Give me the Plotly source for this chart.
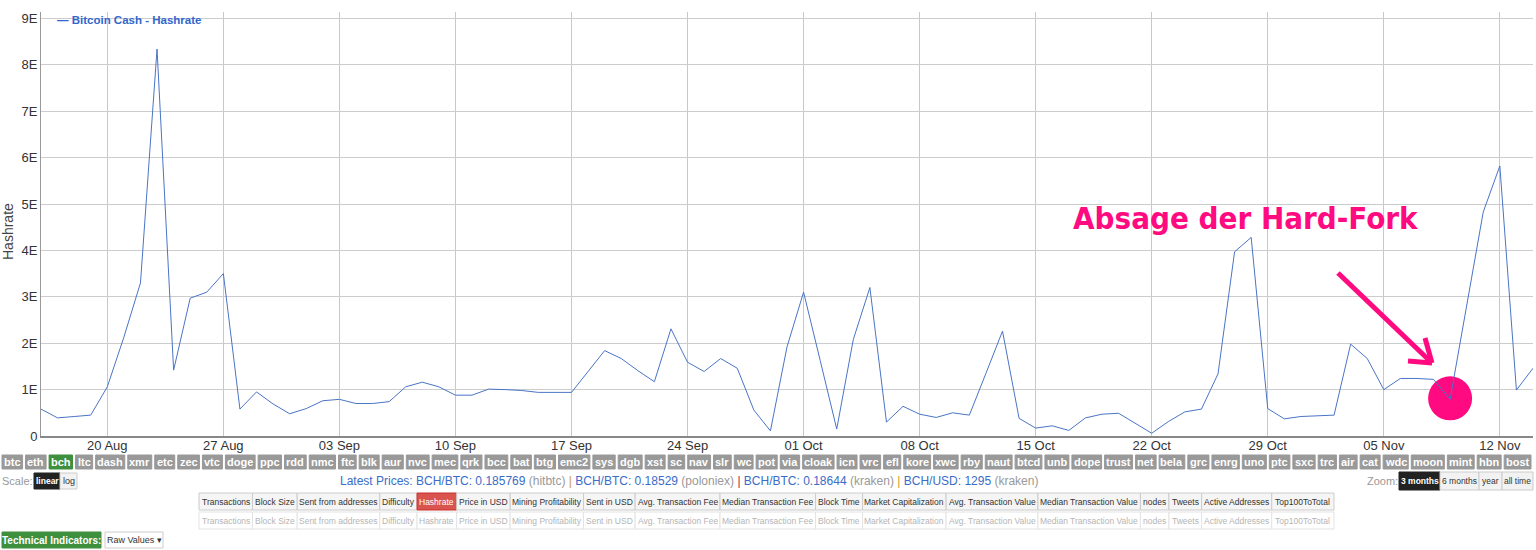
import plotly.graph_objects as go
import pandas as pd

# ---------------- data ----------------
start_date = "2017-08-16"
end_date = "2017-11-14"
hashrate_e = [
    0.58, 0.39, 0.42, 0.45, 1.06, 2.13, 3.3, 8.34, 1.42, 2.97,
    3.1, 3.5, 0.58, 0.95, 0.69, 0.48, 0.59, 0.76, 0.79, 0.7,
    0.7, 0.74, 1.06, 1.16, 1.06, 0.88, 0.88, 1.01, 1.0, 0.98,
    0.94, 0.94, 0.94, 1.39, 1.84, 1.67, 1.41, 1.17, 2.31, 1.59,
    1.39, 1.67, 1.46, 0.56, 0.11, 1.92, 3.1, 1.63, 0.15, 2.08,
    3.2, 0.3, 0.64, 0.47, 0.4, 0.5, 0.45, 1.35, 2.26, 0.38,
    0.17, 0.22, 0.12, 0.39, 0.47, 0.49, 0.27, 0.06, 0.31, 0.52,
    0.58, 1.34, 3.97, 4.28, 0.59, 0.37, 0.42, 0.43, 0.45, 1.98,
    1.67, 1.0, 1.24, 1.24, 1.22, 0.79, 2.82, 4.83, 5.82, 0.99,
    1.46,
]
dates = pd.date_range(start_date, end_date, freq="D")
y_tickvals = [0, 1, 2, 3, 4, 5, 6, 7, 8, 9]
y_ticktext = ["0", "1E", "2E", "3E", "4E", "5E", "6E", "7E", "8E", "9E"]
series_name = "Bitcoin Cash - Hashrate"
event_label = "Absage der Hard-Fork"
event_date = "2017-11-09"

coins = ["btc", "eth", "bch", "ltc", "dash", "xmr", "etc", "zec", "vtc", "doge", "ppc", "rdd",
         "nmc", "ftc", "blk", "aur", "nvc", "mec", "qrk", "bcc", "bat", "btg", "emc2", "sys",
         "dgb", "xst", "sc", "nav", "slr", "wc", "pot", "via", "cloak", "icn", "vrc", "efl",
         "kore", "xwc", "rby", "naut", "btcd", "unb", "dope", "trust", "net", "bela", "grc",
         "enrg", "uno", "ptc", "sxc", "trc", "air", "cat", "wdc", "moon", "mint", "hbn", "bost"]
metrics = ["Transactions", "Block Size", "Sent from addresses", "Difficulty", "Hashrate",
           "Price in USD", "Mining Profitability", "Sent in USD", "Avg. Transaction Fee",
           "Median Transaction Fee", "Block Time", "Market Capitalization",
           "Avg. Transaction Value", "Median Transaction Value", "nodes", "Tweets",
           "Active Addresses", "Top100ToTotal"]
zoom_opts = ["3 months", "6 months", "year", "all time"]

# ---------------- geometry helpers (pixels -> paper) ----------------
FW, FH = 1536, 550
L, R, T, B = 41, 1533, 12, 436


def fx(px):
    return (px - L) / (R - L)


def fy(py):
    return (B - py) / (B - T)


BOLD = dict(a=556, b=611, c=556, d=611, e=556, f=333, g=611, h=611, i=278, j=278, k=556,
            l=278, m=889, n=611, o=611, p=611, q=611, r=389, s=556, t=333, u=611, v=556,
            w=778, x=556, y=556, z=500)
REG = dict(a=556, b=556, c=500, d=556, e=556, f=278, g=556, h=556, i=222, j=222, k=500,
           l=222, m=833, n=556, o=556, p=556, q=556, r=333, s=500, t=278, u=556, v=500,
           w=722, x=500, y=500, z=500, A=667, B=667, C=722, D=722, E=667, F=611, G=778,
           H=722, I=278, M=833, P=667, S=667, T=611, U=722, V=667)
REG[" "] = 278
REG["."] = 278


def tw(s, size, table):
    return sum(table.get(c, 556) for c in s) * size / 1000.0


shapes = []
annotations = []
FONT = "Arial, Liberation Sans, sans-serif"


def button(x0, x1, y0, y1, text, bg, fg, size, bold=False, border=None):
    shapes.append(dict(type="rect", xref="paper", yref="paper",
                       x0=fx(x0), x1=fx(x1), y0=fy(y1), y1=fy(y0),
                       fillcolor=bg, line=dict(color=border or bg, width=1), layer="above"))
    annotations.append(dict(xref="paper", yref="paper", x=fx((x0 + x1) / 2.0),
                            y=fy((y0 + y1) / 2.0), showarrow=False,
                            xanchor="center", yanchor="middle",
                            text=("<b>%s</b>" % text) if bold else text,
                            font=dict(family=FONT, size=size, color=fg)))


def label(px, py, text, size, color, xanchor="left", bold=False):
    annotations.append(dict(xref="paper", yref="paper", x=fx(px), y=fy(py), showarrow=False,
                            xanchor=xanchor, yanchor="middle",
                            text=("<b>%s</b>" % text) if bold else text,
                            font=dict(family=FONT, size=size, color=color)))


# ---------------- figure ----------------
fig = go.Figure()
fig.add_trace(go.Scatter(x=dates, y=hashrate_e, mode="lines", name=series_name,
                         line=dict(color="#4a74c6", width=1), showlegend=False))

# legend-like box
shapes.append(dict(type="rect", xref="paper", yref="paper", x0=fx(43), x1=fx(260),
                   y0=fy(31), y1=fy(12), fillcolor="white", line=dict(width=0), layer="between"))
label(55, 20, "— " + series_name, 11.5, "#3366cc", bold=True)

# y-axis title
annotations.append(dict(xref="paper", yref="paper", x=fx(8), y=fy(232), showarrow=False,
                        text="Hashrate", textangle=-90, xanchor="center", yanchor="middle",
                        font=dict(family=FONT, size=14, color="#444")))

# event annotation
PINK = "#ff0a80"
annotations.append(dict(xref="paper", yref="paper", x=fx(1246), y=fy(218), showarrow=False,
                        text="<b>%s</b>" % event_label, xanchor="center", yanchor="middle",
                        font=dict(family="DejaVu Sans Condensed, DejaVu Sans, sans-serif",
                                  size=31, color=PINK)))
for (ax0, ay0, ax1, ay1) in [(1338, 273, 1432, 363), (1425, 338, 1432, 363), (1408, 361, 1432, 363)]:
    shapes.append(dict(type="line", xref="paper", yref="paper", x0=fx(ax0), y0=fy(ay0),
                       x1=fx(ax1), y1=fy(ay1), line=dict(color=PINK, width=5), layer="above"))
ev_idx = list(dates.strftime("%Y-%m-%d")).index(event_date)
shapes.append(dict(type="circle", xref="x", yref="y", xsizemode="pixel", ysizemode="pixel",
                   xanchor=dates[ev_idx], yanchor=hashrate_e[ev_idx],
                   x0=-22, x1=22, y0=-21, y1=23, fillcolor=PINK, line=dict(width=0),
                   layer="between"))

# ---------------- coin buttons row ----------------
raw = [tw(c, 10, BOLD) + 5 for c in coins]
gap = 3
scale = (1531 - 2 - gap * (len(coins) - 1)) / sum(raw)
x = 2
for c, w in zip(coins, raw):
    w *= scale
    bg = "#3e8f3e" if c == "bch" else "#999999"
    button(x, x + w, 455, 469, c, bg, "white", 11, bold=True)
    x += w + gap

# ---------------- scale / prices / zoom row ----------------
label(0, 481, "Scale:", 11, "#999")
button(34, 60, 473, 489, "linear", "#222222", "white", 8.5, bold=True)
button(60, 77, 473, 489, "log", "#f2f2f2", "#333", 9, border="#cccccc")

blue = "#3a6cc8"
grey = "#999"
prices = ('<span style="color:%s">Latest Prices: BCH/BTC: 0.185769</span> '
          '<span style="color:%s">(hitbtc)</span> <span style="color:#d29a2a">|</span> '
          '<span style="color:%s">BCH/BTC: 0.18529</span> <span style="color:%s">(poloniex)</span> '
          '<span style="color:#b02050">|</span> '
          '<span style="color:%s">BCH/BTC: 0.18644</span> <span style="color:%s">(kraken)</span> '
          '<span style="color:#d29a2a">|</span> '
          '<span style="color:%s">BCH/USD: 1295</span> <span style="color:%s">(kraken)</span>'
          % (blue, grey, blue, grey, blue, grey, blue, grey))
label(689, 481, prices, 12, blue, xanchor="center")

label(1365, 481, "Zoom:", 11, "#999")
zoom_edges = [1399, 1440, 1479, 1502, 1533]
for i, z in enumerate(zoom_opts):
    if i == 0:
        button(zoom_edges[i], zoom_edges[i + 1], 472, 490, z, "#222222", "white", 8.5, bold=True)
    else:
        button(zoom_edges[i], zoom_edges[i + 1], 472, 490, z, "#f2f2f2", "#333", 8.5, border="#cccccc")

# ---------------- metric button groups ----------------
raw = [tw(m, 8.5, REG) + 6 for m in metrics]
scale = (1334 - 199) / sum(raw)
x = 199
for m, w in zip(metrics, raw):
    w *= scale
    if m == "Hashrate":
        button(x, x + w, 493, 510, m, "#d9534f", "white", 8.5, border="#c9302c")
    else:
        button(x, x + w, 493, 510, m, "#f5f5f5", "#333", 8.5, border="#cccccc")
    button(x, x + w, 512, 529, m, "#ffffff", "#b5b5b5", 8.5, border="#e3e3e3")
    x += w

# ---------------- technical indicators row ----------------
button(2, 101, 532, 548, "Technical Indicators:", "#3e8f3e", "white", 10, bold=True)
button(105, 163, 532, 548, "Raw Values ▾", "#ffffff", "#333", 9, border="#cccccc")

fig.update_layout(
    width=FW, height=FH,
    margin=dict(l=L, r=FW - R, t=T, b=FH - B),
    paper_bgcolor="white", plot_bgcolor="white",
    font=dict(family=FONT, color="#333"),
    showlegend=False,
    xaxis=dict(type="date", range=[start_date, end_date], tick0="2017-08-20",
               dtick=7 * 24 * 3600 * 1000, tickformat="%d %b",
               showgrid=True, gridcolor="#c8c8c8", gridwidth=1,
               showline=True, linecolor="#888888", linewidth=1.5,
               ticks="", ticklabelstandoff=-3,
               tickfont=dict(size=13, color="#333"), zeroline=False),
    yaxis=dict(range=[0, (B - T) / 46.4], tickvals=y_tickvals, ticktext=y_ticktext,
               showgrid=True, gridcolor="#cccccc", gridwidth=1,
               showline=True, linecolor="#999999", linewidth=1,
               ticks="", tickfont=dict(size=13, color="#333"), zeroline=False),
    shapes=shapes,
    annotations=annotations,
)

fig.write_html("out.html", config={"displayModeBar": False},
               post_script="document.body.style.margin='0px';document.body.style.overflow='hidden';")
